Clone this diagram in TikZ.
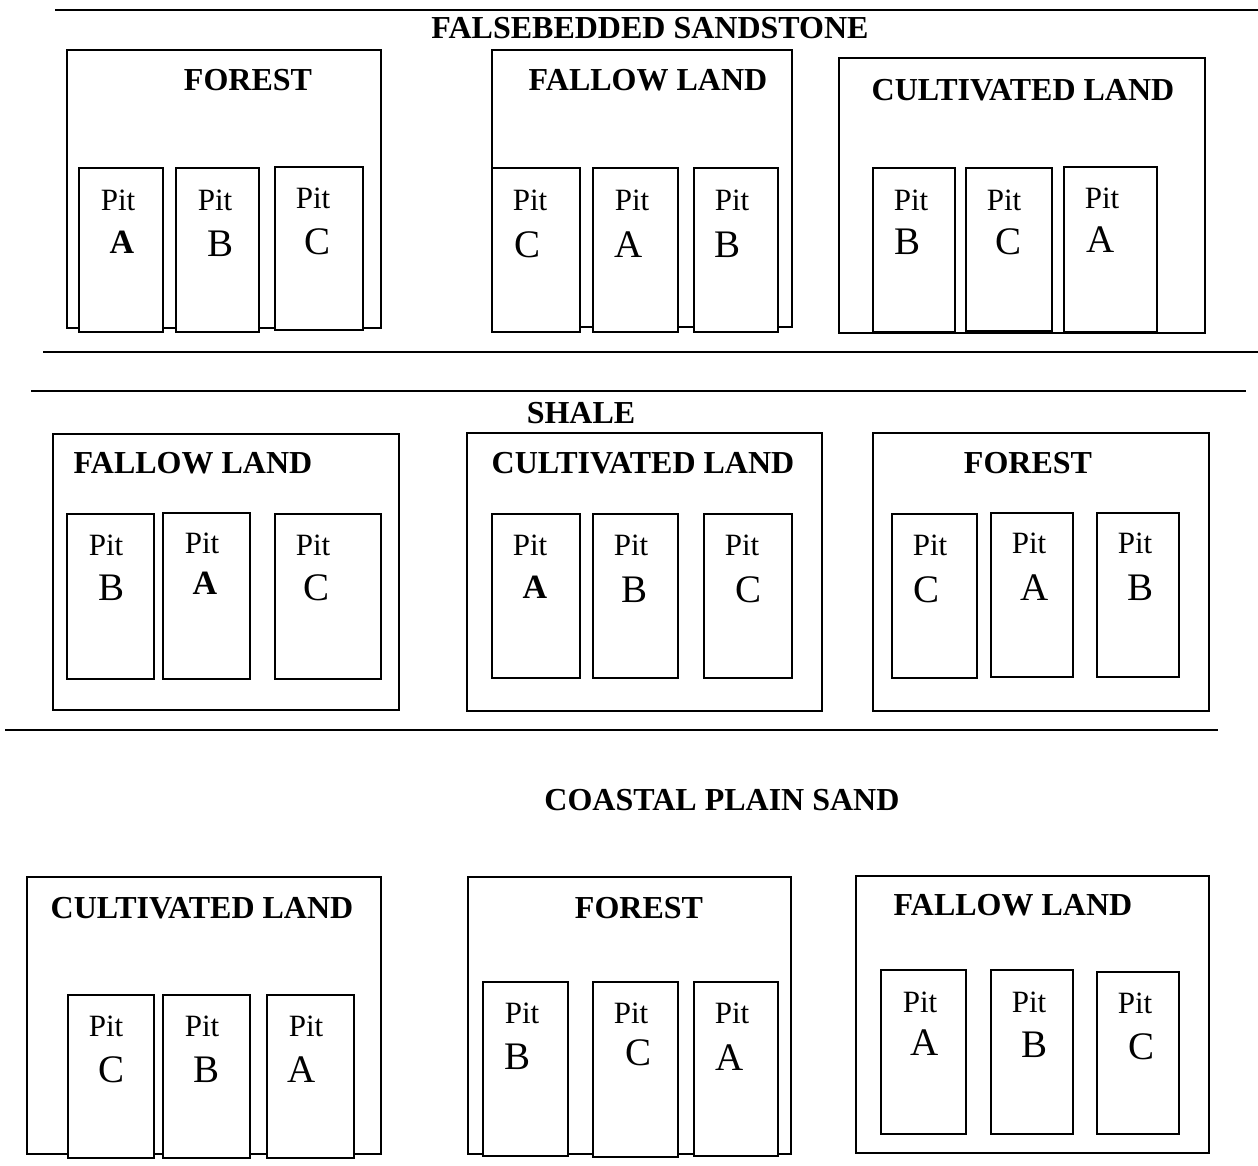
\documentclass[tikz,border=0pt]{standalone}
\usepackage{fontspec}
\setmainfont{Liberation Serif}
\begin{document}
\begin{tikzpicture}[x=0.5pt, y=-0.5pt,
    layer/.style={line width=1pt},
    field/.style={draw, line width=0.8pt},
    pit/.style={draw, fill=white, line width=0.8pt},
    zone/.style={inner sep=0pt, font=\fontsize{16}{19}\selectfont\bfseries},
    land/.style={inner sep=0pt, font=\fontsize{16}{19}\selectfont\bfseries},
    pitlbl/.style={inner sep=0pt, font=\fontsize{15.5}{18}\selectfont},
    pitid/.style={inner sep=0pt, font=\fontsize{19.5}{22}\selectfont},
    pitidb/.style={inner sep=0pt, font=\fontsize{17}{20}\selectfont\bfseries}]
  \useasboundingbox (0,0) rectangle (1258,1166);
  % boundaries between the formations
  \draw[layer] (55,10) -- (1258,10);
  \draw[layer] (43,352) -- (1258,352);
  \draw[layer] (31,391) -- (1246,391);
  \draw[layer] (5,730) -- (1218,730);
  \node[zone] (fss) at (650,28) {FALSEBEDDED SANDSTONE};
  \node[zone] (sh) at (581,413) {SHALE};
  \node[zone] (cps) at (722,800) {COASTAL PLAIN SAND};

  % falsebedded sandstone
  \draw[field] (67,50) rectangle (381,328);   \node[land] (t1) at (248,80) {FOREST};
  \draw[pit] (79,168) rectangle (163,332);    \node[pitlbl] (p11) at (118,200) {Pit}; \node[pitidb] (l11) at (122,242) {A};
  \draw[pit] (176,168) rectangle (259,332);   \node[pitlbl] (p12) at (215,200) {Pit}; \node[pitid] (l12) at (221,244) {B};
  \draw[pit] (275,167) rectangle (363,330);   \node[pitlbl] (p13) at (313,198) {Pit}; \node[pitid] (l13) at (318,242) {C};

  \draw[field] (492,50) rectangle (792,327);  \node[land] (t2) at (648,80) {FALLOW LAND};
  \draw[pit] (492,168) rectangle (580,332);   \node[pitlbl] (p21) at (530,200) {Pit}; \node[pitid] (l21) at (527,245) {C};
  \draw[pit] (593,168) rectangle (678,332);   \node[pitlbl] (p22) at (632,200) {Pit}; \node[pitid] (l22) at (629,245) {A};
  \draw[pit] (694,168) rectangle (778,332);   \node[pitlbl] (p23) at (732,200) {Pit}; \node[pitid] (l23) at (727,245) {B};

  \draw[field] (839,58) rectangle (1205,333); \node[land] (t3) at (1023,90) {CULTIVATED LAND};
  \draw[pit] (873,168) rectangle (955,332);   \node[pitlbl] (p31) at (911,200) {Pit}; \node[pitid] (l31) at (907,242) {B};
  \draw[pit] (966,168) rectangle (1052,331);  \node[pitlbl] (p32) at (1004,200) {Pit}; \node[pitid] (l32) at (1008,242) {C};
  \draw[pit] (1064,167) rectangle (1157,332); \node[pitlbl] (p33) at (1102,198) {Pit}; \node[pitid] (l33) at (1101,240) {A};

  % shale
  \draw[field] (53,434) rectangle (399,710);  \node[land] (t4) at (193,463) {FALLOW LAND};
  \draw[pit] (67,514) rectangle (154,679);    \node[pitlbl] (p41) at (106,545) {Pit}; \node[pitid] (l41) at (112,588) {B};
  \draw[pit] (163,513) rectangle (250,679);   \node[pitlbl] (p42) at (202,543) {Pit}; \node[pitidb] (l42) at (205,583) {A};
  \draw[pit] (275,514) rectangle (381,679);   \node[pitlbl] (p43) at (313,545) {Pit}; \node[pitid] (l43) at (317,588) {C};

  \draw[field] (467,433) rectangle (822,711); \node[land] (t5) at (643,463) {CULTIVATED LAND};
  \draw[pit] (492,514) rectangle (580,678);   \node[pitlbl] (p51) at (530,545) {Pit}; \node[pitidb] (l51) at (535,587) {A};
  \draw[pit] (593,514) rectangle (678,678);   \node[pitlbl] (p52) at (631,545) {Pit}; \node[pitid] (l52) at (634,590) {B};
  \draw[pit] (704,514) rectangle (792,678);   \node[pitlbl] (p53) at (742,545) {Pit}; \node[pitid] (l53) at (748,590) {C};

  \draw[field] (873,433) rectangle (1209,711); \node[land] (t6) at (1028,463) {FOREST};
  \draw[pit] (892,514) rectangle (977,678);   \node[pitlbl] (p61) at (930,545) {Pit}; \node[pitid] (l61) at (926,590) {C};
  \draw[pit] (991,513) rectangle (1073,677);  \node[pitlbl] (p62) at (1029,543) {Pit}; \node[pitid] (l62) at (1035,588) {A};
  \draw[pit] (1097,513) rectangle (1179,677); \node[pitlbl] (p63) at (1135,543) {Pit}; \node[pitid] (l63) at (1140,588) {B};

  % coastal plain sand
  \draw[field] (27,877) rectangle (381,1154); \node[land] (t7) at (202,908) {CULTIVATED LAND};
  \draw[pit] (68,995) rectangle (154,1158);   \node[pitlbl] (p71) at (106,1026) {Pit}; \node[pitid] (l71) at (112,1070) {C};
  \draw[pit] (163,995) rectangle (250,1158);  \node[pitlbl] (p72) at (202,1026) {Pit}; \node[pitid] (l72) at (207,1070) {B};
  \draw[pit] (267,995) rectangle (354,1158);  \node[pitlbl] (p73) at (306,1026) {Pit}; \node[pitid] (l73) at (302,1070) {A};

  \draw[field] (468,877) rectangle (791,1154); \node[land] (t8) at (639,908) {FOREST};
  \draw[pit] (483,982) rectangle (568,1156);  \node[pitlbl] (p81) at (522,1013) {Pit}; \node[pitid] (l81) at (517,1057) {B};
  \draw[pit] (593,982) rectangle (678,1157);  \node[pitlbl] (p82) at (631,1013) {Pit}; \node[pitid] (l82) at (638,1053) {C};
  \draw[pit] (694,982) rectangle (778,1156);  \node[pitlbl] (p83) at (732,1013) {Pit}; \node[pitid] (l83) at (730,1058) {A};

  \draw[field] (856,876) rectangle (1209,1153); \node[land] (t9) at (1013,905) {FALLOW LAND};
  \draw[pit] (881,970) rectangle (966,1134);  \node[pitlbl] (p91) at (920,1002) {Pit}; \node[pitid] (l91) at (925,1043) {A};
  \draw[pit] (991,970) rectangle (1073,1134); \node[pitlbl] (p92) at (1029,1002) {Pit}; \node[pitid] (l92) at (1034,1045) {B};
  \draw[pit] (1097,972) rectangle (1179,1134); \node[pitlbl] (p93) at (1135,1003) {Pit}; \node[pitid] (l93) at (1141,1047) {C};
\end{tikzpicture}
\end{document}
